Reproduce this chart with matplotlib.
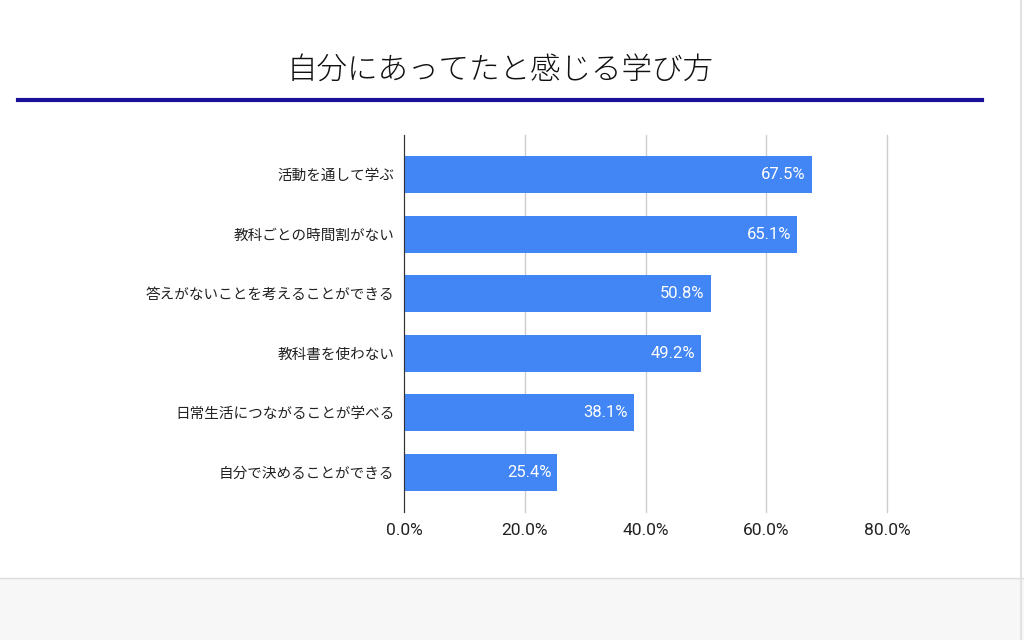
import matplotlib.pyplot as plt
from matplotlib.patches import Rectangle
from matplotlib.lines import Line2D

plt.rcParams['font.family'] = ['Noto Sans CJK JP', 'DejaVu Sans']

title = '自分にあってたと感じる学び方'
categories = ['活動を通して学ぶ', '教科ごとの時間割がない', '答えがないことを考えることができる',
              '教科書を使わない', '日常生活につながることが学べる', '自分で決めることができる']
values = [67.5, 65.1, 50.8, 49.2, 38.1, 25.4]
xticks = [0, 20, 40, 60, 80]

fig = plt.figure(figsize=(10.24, 6.4), dpi=100)

# grey footer band and right edge line
fig.patches.append(Rectangle((0, 0), 1, 62 / 640, transform=fig.transFigure,
                             facecolor='#f7f7f7', edgecolor='none', zorder=0))
fig.lines.append(Line2D([0, 1], [62 / 640, 62 / 640], transform=fig.transFigure,
                        color='#dcdcdc', lw=1))
fig.lines.append(Line2D([1021 / 1024, 1021 / 1024], [0, 1], transform=fig.transFigure,
                        color='#e2e2e2', lw=1.5))

fig.text(500 / 1024, 1 - 70 / 640, title, ha='center', va='center', fontsize=22,
         fontweight='light', color='#111111')
fig.lines.append(Line2D([18 / 1024, 982 / 1024], [1 - 100 / 640, 1 - 100 / 640],
                        transform=fig.transFigure, color='#1a0f9a', lw=3))

ax = fig.add_axes([404 / 1024, 128 / 640, 483 / 1024, 377 / 640])
y = list(range(len(categories)))
ax.barh(y, values, height=0.62, color='#4285f4', zorder=2)
for yi, v in zip(y, values):
    ax.text(v - 1.0, yi, f'{v:.1f}%', ha='right', va='center', color='white',
            fontsize=12, family=['Roboto', 'DejaVu Sans'], zorder=3)

ax.set_xlim(0, 80)
ax.set_ylim(len(categories) - 0.33, -0.67)
ax.set_yticks(y)
ax.set_yticklabels(categories, fontsize=10.5, color='#222222')
ax.set_xticks(xticks)
ax.set_xticklabels([f'{t:.1f}%' for t in xticks], fontsize=12.5, color='#222222',
                   family=['Roboto', 'DejaVu Sans'])
ax.tick_params(axis='both', length=0)
ax.tick_params(axis='x', pad=8)
ax.tick_params(axis='y', pad=7)
ax.grid(axis='x', color='#cccccc', lw=1, zorder=0)
for gl in ax.get_xgridlines():
    gl.set_clip_on(False)
ax.set_axisbelow(True)
for s in ['top', 'right', 'bottom']:
    ax.spines[s].set_visible(False)
ax.spines['left'].set_color('#333333')
ax.spines['left'].set_zorder(4)

fig.savefig('out.png', dpi=100)
